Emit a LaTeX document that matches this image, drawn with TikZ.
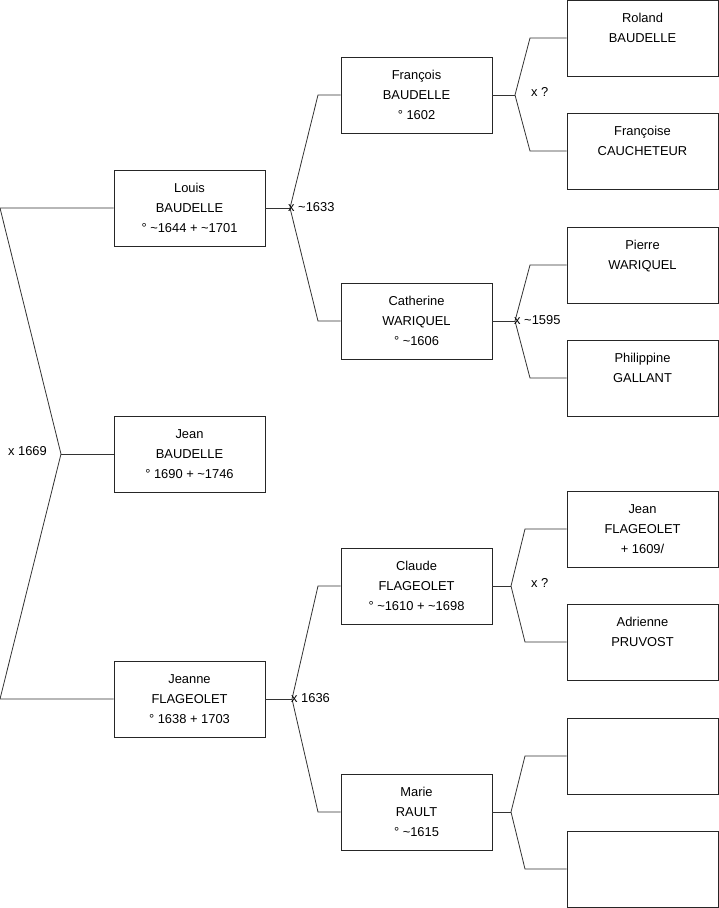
\documentclass[tikz,border=0pt]{standalone}
\usepackage{fontspec}
\setmainfont{Liberation Sans}
\begin{document}
\begin{tikzpicture}[x=1pt,y=-1pt,
  person/.style={draw=black!85, line width=0.8pt, minimum width=151pt, minimum height=76pt,
    inner sep=0pt, align=center, font=\fontsize{12.9}{20}\selectfont},
  link/.style={draw=black!80, line width=0.8pt},
  lbl/.style={inner sep=0pt, font=\fontsize{12.9}{14}\selectfont}]
\useasboundingbox (0,0) rectangle (719,908);
\fill[white] (0,0) rectangle (719,908);
% generation 1
\node[person] (louis) at (189.5,208) {Louis\\BAUDELLE\\° \textasciitilde1644 + \textasciitilde1701};
\node[person] (jean) at (189.5,454) {Jean\\BAUDELLE\\° 1690 + \textasciitilde1746};
\node[person] (jeanne) at (189.5,699) {Jeanne\\FLAGEOLET\\° 1638 + 1703};
% generation 2
\node[person] (francois) at (416.5,95) {François\\BAUDELLE\\° 1602};
\node[person] (catherine) at (416.5,321) {Catherine\\WARIQUEL\\° \textasciitilde1606};
\node[person] (claude) at (416.5,586) {Claude\\FLAGEOLET\\° \textasciitilde1610 + \textasciitilde1698};
\node[person] (marie) at (416.5,812) {Marie\\RAULT\\° \textasciitilde1615};
% generation 3
\node[person] (roland) at (642.5,38) {Roland\\BAUDELLE\\\mbox{}};
\node[person] (francoise) at (642.5,151) {Françoise\\CAUCHETEUR\\\mbox{}};
\node[person] (pierre) at (642.5,265) {Pierre\\WARIQUEL\\\mbox{}};
\node[person] (philippine) at (642.5,378) {Philippine\\GALLANT\\\mbox{}};
\node[person] (jeanf) at (642.5,529) {Jean\\FLAGEOLET\\+ 1609/};
\node[person] (adrienne) at (642.5,642) {Adrienne\\PRUVOST\\\mbox{}};
\node[person] (e1) at (642.5,756) {};
\node[person] (e2) at (642.5,869) {};
% fork coordinates
\coordinate (v0) at (61,454);
\coordinate (v0a) at (0,208);
\coordinate (v0b) at (0,699);
\coordinate (v1) at (290,208);
\coordinate (v1a) at (318,95);
\coordinate (v1b) at (318,321);
\coordinate (v2) at (292,699);
\coordinate (v2a) at (318,586);
\coordinate (v2b) at (318,812);
\coordinate (v3) at (515,95);
\coordinate (v3a) at (530,38);
\coordinate (v3b) at (530,151);
\coordinate (v4) at (515,321);
\coordinate (v4a) at (530,265);
\coordinate (v4b) at (530,378);
\coordinate (v5) at (511,586);
\coordinate (v5a) at (525,529);
\coordinate (v5b) at (525,642);
\coordinate (v6) at (511,812);
\coordinate (v6a) at (525,756);
\coordinate (v6b) at (525,869);
% connectors
\draw[link] (jean.west) -- (v0);
\draw[link] (v0) -- (v0a) -- (louis.west);
\draw[link] (v0) -- (v0b) -- (jeanne.west);
\draw[link] (louis.east) -- (v1);
\draw[link] (v1) -- (v1a) -- (francois.west);
\draw[link] (v1) -- (v1b) -- (catherine.west);
\draw[link] (jeanne.east) -- (v2);
\draw[link] (v2) -- (v2a) -- (claude.west);
\draw[link] (v2) -- (v2b) -- (marie.west);
\draw[link] (francois.east) -- (v3);
\draw[link] (v3) -- (v3a) -- (roland.west);
\draw[link] (v3) -- (v3b) -- (francoise.west);
\draw[link] (catherine.east) -- (v4);
\draw[link] (v4) -- (v4a) -- (pierre.west);
\draw[link] (v4) -- (v4b) -- (philippine.west);
\draw[link] (claude.east) -- (v5);
\draw[link] (v5) -- (v5a) -- (jeanf.west);
\draw[link] (v5) -- (v5b) -- (adrienne.west);
\draw[link] (marie.east) -- (v6);
\draw[link] (v6) -- (v6a) -- (e1.west);
\draw[link] (v6) -- (v6b) -- (e2.west);
% marriage labels
\node[lbl, anchor=east] (m0) at (47,451) {x 1669};
\node[lbl, anchor=west] (m1) at (288,207) {x \textasciitilde1633};
\node[lbl, anchor=west] (m2) at (291,698) {x 1636};
\node[lbl, anchor=west] (m3) at (531,92) {x ?};
\node[lbl, anchor=west] (m4) at (514,320) {x \textasciitilde1595};
\node[lbl, anchor=west] (m5) at (531,583) {x ?};
\end{tikzpicture}
\end{document}
